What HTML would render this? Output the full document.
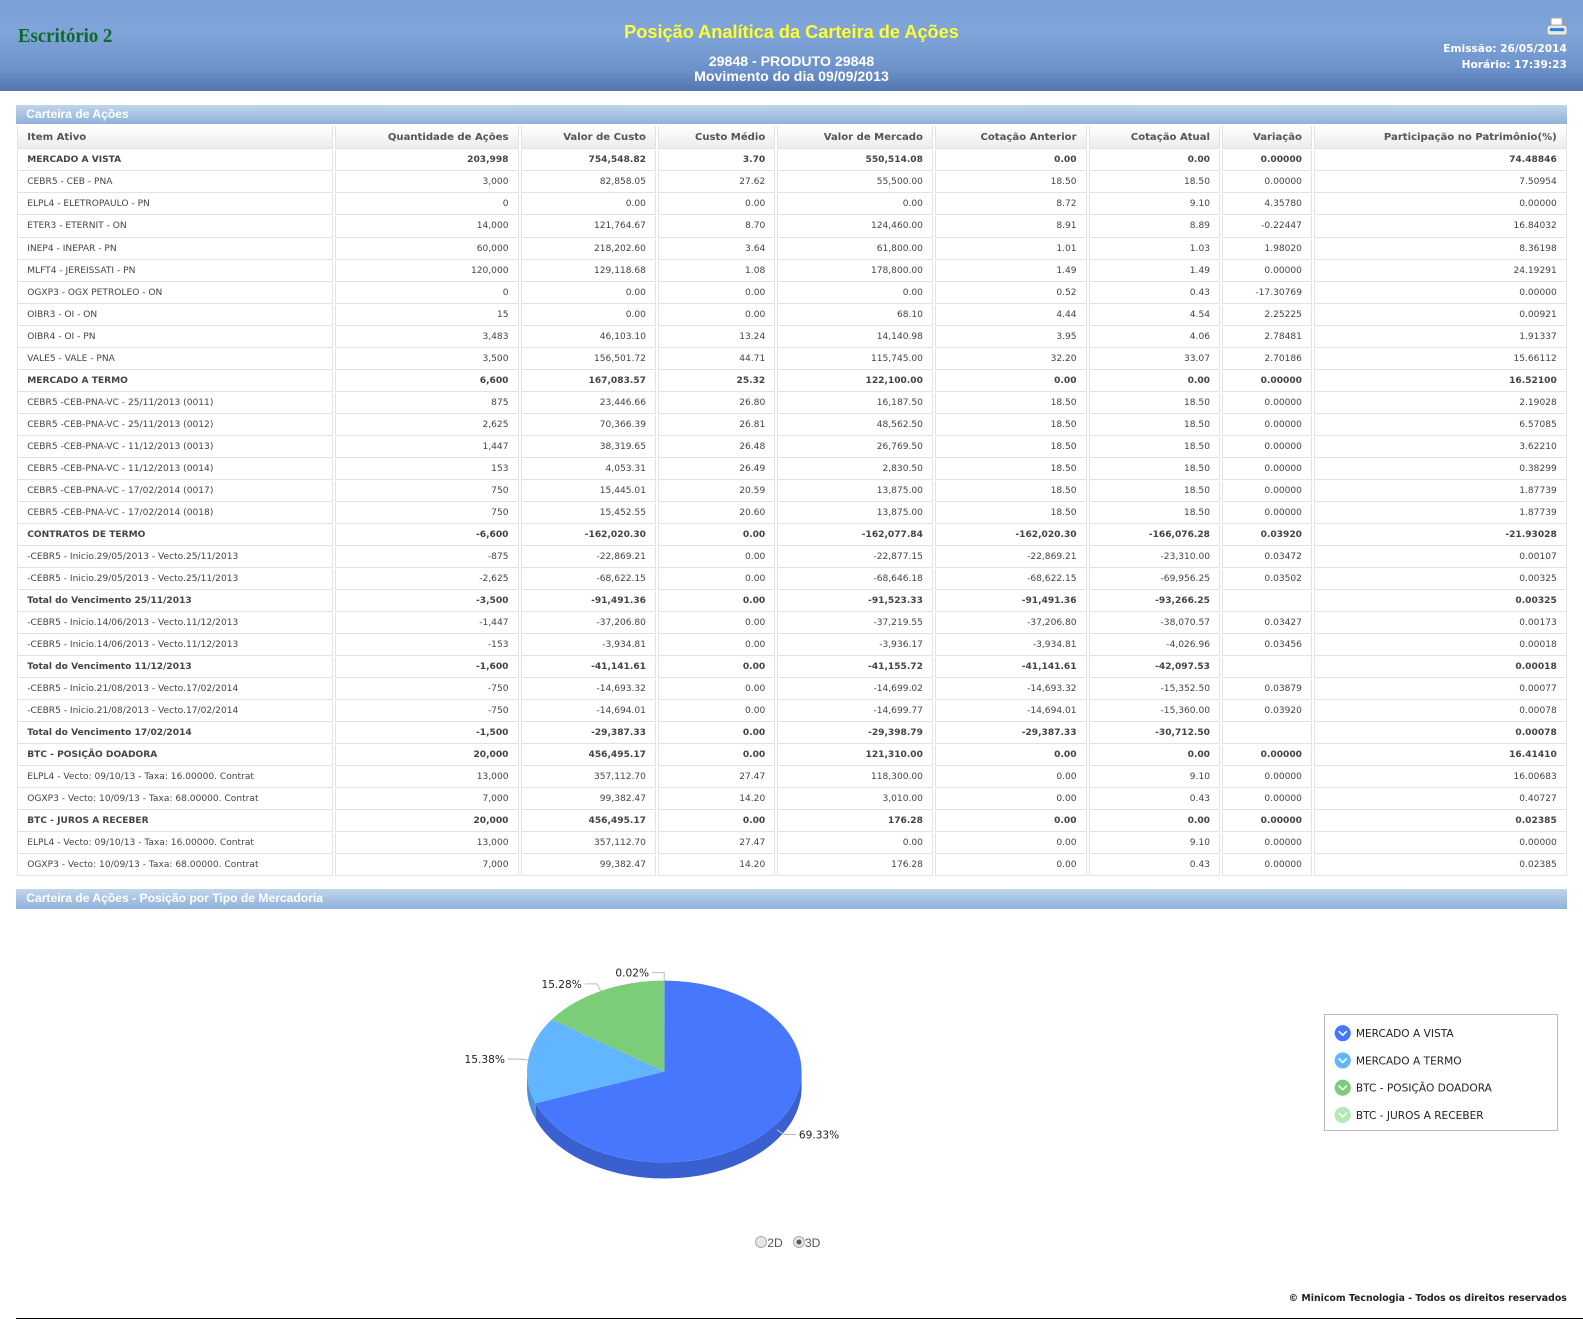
<!DOCTYPE html>
<html><head><meta charset="utf-8">
<style>
html,body{margin:0;padding:0;background:#fff;}
body{zoom:1.00957;width:1568px;height:1314px;position:relative;overflow:hidden;font-family:"DejaVu Sans","Liberation Sans",sans-serif;}
#hdr{position:absolute;left:0;top:0;width:1568px;height:90px;background:linear-gradient(#7a9fd6 0%,#80a5da 35%,#6e93cb 75%,#5376b0 100%);}
.abs{position:absolute;}
.bar{position:absolute;left:16px;width:1536px;height:19px;background:linear-gradient(#c0d5ea,#8fb1da);color:#fff;font-size:12px;line-height:19px;text-indent:10px;font-family:"Liberation Sans",sans-serif;font-weight:bold;}
table{position:absolute;left:15px;top:124px;border-collapse:separate;border-spacing:2px 1px;table-layout:fixed;width:1539px;}
td,th{border:1px solid #e2e2e2;border-top:none;font-size:9px;color:#444;padding:0 9px;height:19.85px;text-align:right;white-space:nowrap;overflow:hidden;}
th{background:linear-gradient(#fff,#ececec);font-size:10px;font-weight:bold;color:#555;height:22px;}
td:first-child,th:first-child{text-align:left;}
tr.b td{font-weight:bold;}
</style></head><body>
<div id="hdr">
 <div class="abs" style="left:18px;top:25px;font-family:'Liberation Serif',serif;font-weight:bold;font-size:20px;color:#0b6b2c;transform:scaleX(0.93);transform-origin:left;">Escritório 2</div>
 <div class="abs" style="left:0;width:1568px;top:22px;text-align:center;font-family:'Liberation Sans',sans-serif;font-weight:bold;font-size:18px;color:#ffff33;">Posição Analítica da Carteira de Ações</div>
 <div class="abs" style="left:0;width:1568px;top:53px;text-align:center;font-family:'Liberation Sans',sans-serif;font-weight:bold;font-size:14px;line-height:15px;color:#fff;">29848 - PRODUTO 29848<br>Movimento do dia 09/09/2013</div>
 <svg class="abs" style="left:1531px;top:17px" width="22" height="22" viewBox="0 0 22 22"><rect x="5" y="1" width="11" height="8" fill="#fff" stroke="#aaa"/><rect x="1" y="8" width="20" height="10" rx="3" fill="#e8e8e8" stroke="#999"/><rect x="4" y="11" width="14" height="3" fill="#2a7fe0"/></svg>
 <div class="abs" style="right:16px;top:42px;text-align:right;font-weight:bold;font-size:10.5px;line-height:15px;color:#fff;">Emissão: 26/05/2014<br>Horário: 17:39:23</div>
</div>
<div class="bar" style="top:104px">Carteira de Ações</div>
<table>
<colgroup><col style="width:312px"><col style="width:182px"><col style="width:134px"><col style="width:116px"><col style="width:154px"><col style="width:150px"><col style="width:130px"><col style="width:89px"><col style="width:250px"></colgroup>
<thead><tr><th>Item Ativo</th><th>Quantidade de Ações</th><th>Valor de Custo</th><th>Custo Médio</th><th>Valor de Mercado</th><th>Cotação Anterior</th><th>Cotação Atual</th><th>Variação</th><th>Participação no Patrimônio(%)</th></tr></thead>
<tbody id="tb"></tbody></table>
<div class="bar" style="top:881px">Carteira de Ações - Posição por Tipo de Mercadoria</div>
<svg class="abs" id="pie" style="left:0;top:900px" width="1568" height="380"></svg>
<div class="abs" style="left:1311px;top:1004px;width:230px;height:114px;border:1px solid #bbb;"></div>
<div class="abs" style="left:748px;top:1224px;font-size:12px;color:#555;font-family:'Liberation Sans',sans-serif;">
 <span style="display:inline-block;width:10px;height:10px;border-radius:50%;border:1px solid #aaa;background:#e6e6e6;vertical-align:-1px"></span>2D&nbsp;&nbsp;
 <span style="display:inline-block;width:10px;height:10px;border-radius:50%;border:1px solid #aaa;background:radial-gradient(#555 30%,#e6e6e6 40%);vertical-align:-1px"></span>3D</div>
<div class="abs" style="right:16px;top:1281px;font-size:9.3px;font-weight:bold;color:#222;">© Minicom Tecnologia - Todos os direitos reservados</div>
<div class="abs" style="left:16px;top:1306px;width:1552px;height:1px;background:#000;"></div>
<script>
const rows=[
[1,"MERCADO A VISTA","203,998","754,548.82","3.70","550,514.08","0.00","0.00","0.00000","74.48846"],
[0,"CEBR5 - CEB - PNA","3,000","82,858.05","27.62","55,500.00","18.50","18.50","0.00000","7.50954"],
[0,"ELPL4 - ELETROPAULO - PN","0","0.00","0.00","0.00","8.72","9.10","4.35780","0.00000"],
[0,"ETER3 - ETERNIT - ON","14,000","121,764.67","8.70","124,460.00","8.91","8.89","-0.22447","16.84032"],
[0,"INEP4 - INEPAR - PN","60,000","218,202.60","3.64","61,800.00","1.01","1.03","1.98020","8.36198"],
[0,"MLFT4 - JEREISSATI - PN","120,000","129,118.68","1.08","178,800.00","1.49","1.49","0.00000","24.19291"],
[0,"OGXP3 - OGX PETROLEO - ON","0","0.00","0.00","0.00","0.52","0.43","-17.30769","0.00000"],
[0,"OIBR3 - OI - ON","15","0.00","0.00","68.10","4.44","4.54","2.25225","0.00921"],
[0,"OIBR4 - OI - PN","3,483","46,103.10","13.24","14,140.98","3.95","4.06","2.78481","1.91337"],
[0,"VALE5 - VALE - PNA","3,500","156,501.72","44.71","115,745.00","32.20","33.07","2.70186","15.66112"],
[1,"MERCADO A TERMO","6,600","167,083.57","25.32","122,100.00","0.00","0.00","0.00000","16.52100"],
[0,"CEBR5 -CEB-PNA-VC - 25/11/2013 (0011)","875","23,446.66","26.80","16,187.50","18.50","18.50","0.00000","2.19028"],
[0,"CEBR5 -CEB-PNA-VC - 25/11/2013 (0012)","2,625","70,366.39","26.81","48,562.50","18.50","18.50","0.00000","6.57085"],
[0,"CEBR5 -CEB-PNA-VC - 11/12/2013 (0013)","1,447","38,319.65","26.48","26,769.50","18.50","18.50","0.00000","3.62210"],
[0,"CEBR5 -CEB-PNA-VC - 11/12/2013 (0014)","153","4,053.31","26.49","2,830.50","18.50","18.50","0.00000","0.38299"],
[0,"CEBR5 -CEB-PNA-VC - 17/02/2014 (0017)","750","15,445.01","20.59","13,875.00","18.50","18.50","0.00000","1.87739"],
[0,"CEBR5 -CEB-PNA-VC - 17/02/2014 (0018)","750","15,452.55","20.60","13,875.00","18.50","18.50","0.00000","1.87739"],
[1,"CONTRATOS DE TERMO","-6,600","-162,020.30","0.00","-162,077.84","-162,020.30","-166,076.28","0.03920","-21.93028"],
[0,"-CEBR5 - Inicio.29/05/2013 - Vecto.25/11/2013","-875","-22,869.21","0.00","-22,877.15","-22,869.21","-23,310.00","0.03472","0.00107"],
[0,"-CEBR5 - Inicio.29/05/2013 - Vecto.25/11/2013","-2,625","-68,622.15","0.00","-68,646.18","-68,622.15","-69,956.25","0.03502","0.00325"],
[1,"Total do Vencimento 25/11/2013","-3,500","-91,491.36","0.00","-91,523.33","-91,491.36","-93,266.25","","0.00325"],
[0,"-CEBR5 - Inicio.14/06/2013 - Vecto.11/12/2013","-1,447","-37,206.80","0.00","-37,219.55","-37,206.80","-38,070.57","0.03427","0.00173"],
[0,"-CEBR5 - Inicio.14/06/2013 - Vecto.11/12/2013","-153","-3,934.81","0.00","-3,936.17","-3,934.81","-4,026.96","0.03456","0.00018"],
[1,"Total do Vencimento 11/12/2013","-1,600","-41,141.61","0.00","-41,155.72","-41,141.61","-42,097.53","","0.00018"],
[0,"-CEBR5 - Inicio.21/08/2013 - Vecto.17/02/2014","-750","-14,693.32","0.00","-14,699.02","-14,693.32","-15,352.50","0.03879","0.00077"],
[0,"-CEBR5 - Inicio.21/08/2013 - Vecto.17/02/2014","-750","-14,694.01","0.00","-14,699.77","-14,694.01","-15,360.00","0.03920","0.00078"],
[1,"Total do Vencimento 17/02/2014","-1,500","-29,387.33","0.00","-29,398.79","-29,387.33","-30,712.50","","0.00078"],
[1,"BTC - POSIÇÃO DOADORA","20,000","456,495.17","0.00","121,310.00","0.00","0.00","0.00000","16.41410"],
[0,"ELPL4 - Vecto: 09/10/13 - Taxa: 16.00000. Contrat","13,000","357,112.70","27.47","118,300.00","0.00","9.10","0.00000","16.00683"],
[0,"OGXP3 - Vecto: 10/09/13 - Taxa: 68.00000. Contrat","7,000","99,382.47","14.20","3,010.00","0.00","0.43","0.00000","0.40727"],
[1,"BTC - JUROS A RECEBER","20,000","456,495.17","0.00","176.28","0.00","0.00","0.00000","0.02385"],
[0,"ELPL4 - Vecto: 09/10/13 - Taxa: 16.00000. Contrat","13,000","357,112.70","27.47","0.00","0.00","9.10","0.00000","0.00000"],
[0,"OGXP3 - Vecto: 10/09/13 - Taxa: 68.00000. Contrat","7,000","99,382.47","14.20","176.28","0.00","0.43","0.00000","0.02385"]];
const tb=document.getElementById('tb');
rows.forEach(r=>{const tr=document.createElement('tr');if(r[0])tr.className='b';


r.slice(1).forEach(v=>{const td=document.createElement('td');td.textContent=v;tr.appendChild(td);});tb.appendChild(tr);});

// Pie chart data
const categories=["MERCADO A VISTA","MERCADO A TERMO","BTC - POSIÇÃO DOADORA","BTC - JUROS A RECEBER"];
const values=[69.33,15.38,15.28,0.02];
const colors=["#4777fd","#62b5ff","#7ccd7a","#b3eab3"];
const sideColors=["#3a5fcf","#4f93d0","#63a862","#90c090"];
const labels=["69.33%","15.38%","15.28%","0.02%"];
const svg=document.getElementById('pie');const NS='http://www.w3.org/2000/svg';
const cx=658,cy=161,rx=136,ry=90,dep=16;
const total=values.reduce((a,b)=>a+b,0);
const pt=(a,dy)=>[cx+rx*Math.cos(a),cy+(dy||0)+ry*Math.sin(a)];
function mk(tag,attrs){const e=document.createElementNS(NS,tag);for(const k in attrs)e.setAttribute(k,attrs[k]);svg.appendChild(e);return e;}
let acc=0;const slices=values.map(v=>{const a1=-Math.PI/2+acc/total*2*Math.PI;acc+=v;const a2=-Math.PI/2+acc/total*2*Math.PI;return [a1,a2];});
slices.forEach(([a1,a2],i)=>{
 [[0,Math.PI],[2*Math.PI,3*Math.PI]].forEach(([lo,hi])=>{
  const s=Math.max(a1,lo),e=Math.min(a2,hi);if(e<=s)return;
  const p1=pt(s),p2=pt(e),q2=pt(e,dep),q1=pt(s,dep);
  const el=mk('path',{d:`M${p1}A${rx},${ry} 0 0 1 ${p2}L${q2}A${rx},${ry} 0 0 0 ${q1}Z`,fill:sideColors[i]});
  
  
 });
});
slices.forEach(([a1,a2],i)=>{
 const p1=pt(a1),p2=pt(a2);const large=(a2-a1)>Math.PI?1:0;
 const el=mk('path',{d:`M${cx},${cy}L${p1}A${rx},${ry} 0 ${large} 1 ${p2}Z`,fill:colors[i]});
 
 
 const m=(a1+a2)/2,c=Math.cos(m),s=Math.sin(m);
 const e=[cx+rx*c,cy+ry*s+(s>0?dep*0.4:0)],o=[cx+(rx+8)*c,cy+(ry+8)*s+(s>0?dep*0.4:0)];
 const dir=c>1e-9?1:-1;const h=[o[0]+dir*12,o[1]];
 mk('polyline',{points:`${e} ${o} ${h}`,fill:'none',stroke:'#bbb','stroke-width':1});
 const t=mk('text',{x:h[0]+dir*3,y:h[1]+4,'font-size':'10.5','font-family':'DejaVu Sans, sans-serif',fill:'#222','text-anchor':dir>0?'start':'end'});
 t.textContent=labels[i];
 
 
});
categories.forEach((c,i)=>{const y=123+i*27;
 const g=mk('circle',{cx:1330,cy:y,r:8,fill:colors[i]});
 
 
 mk('polyline',{points:`${1326},${y-2} ${1330},${y+2} ${1334},${y-2}`,fill:'none',stroke:'#fff','stroke-width':1.5});
 const t=mk('text',{x:1343,y:y+4,'font-size':'10.5','font-family':'DejaVu Sans, sans-serif',fill:'#222'});
 t.textContent=c;
 
 
});
</script>
</body></html>
